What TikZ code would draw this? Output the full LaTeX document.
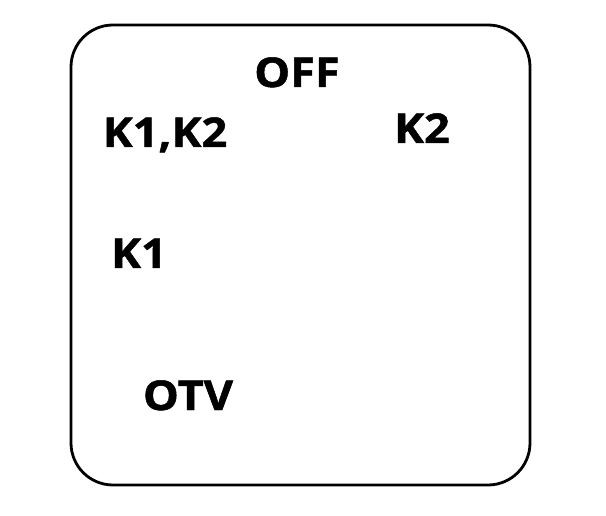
\documentclass[tikz,border=0pt]{standalone}
\usepackage{fontspec}
\setmainfont{Open Sans}[FakeStretch=1.1, BoldFeatures={FakeBold=1.2}]
\usepackage{tikz}

\begin{document}
\begin{tikzpicture}[x=1pt, y=-1pt, every node/.style={font=\fontsize{41}{41}\selectfont\bfseries, inner sep=0pt, anchor=base}]
	\useasboundingbox (0,0) rectangle (606,516);
	\draw[line width=2.8pt, rounded corners=42pt] (71,25) rectangle (530,485);
	\node (off) at (297,87) {OFF};
	\node (kboth) at (165,147) {K1,K2};
	\node (ktwo) at (422,143) {K2};
	\node (kone) at (139,268) {K1};
	\node (otv) at (188,410) {OTV};
\end{tikzpicture}
\end{document}
